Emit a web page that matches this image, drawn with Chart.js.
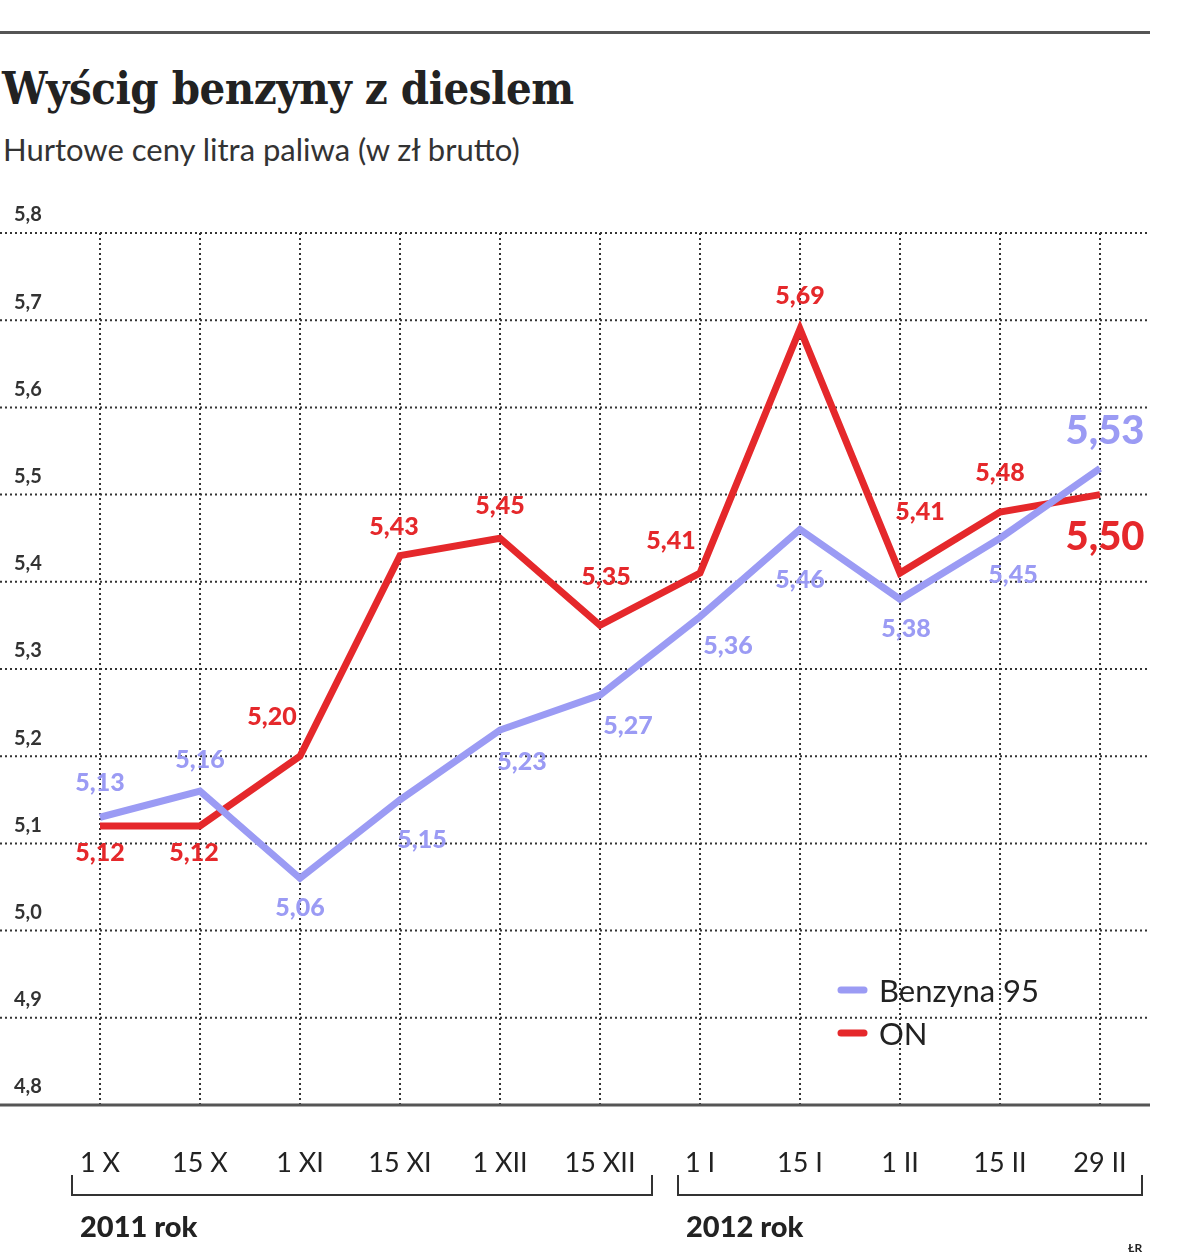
<!DOCTYPE html>
<html><head><meta charset="utf-8">
<script src="https://cdn.jsdelivr.net/npm/chart.js@4/dist/chart.umd.min.js"></script>
<style>
body{margin:0;background:#fff;width:1200px;height:1260px;position:relative;overflow:hidden;font-family:Lato,sans-serif}
#rule{position:absolute;left:0;top:31px;width:1150px;height:3px;background:#555}
#title{position:absolute;left:2px;top:62px;font:bold 45px "DejaVu Serif Condensed","DejaVu Serif",serif;color:#222;letter-spacing:-0.5px}
#sub{position:absolute;left:3px;top:130px;font:31px Lato,sans-serif;color:#333}
canvas{position:absolute;left:0;top:0}
</style></head><body>
<div id="rule"></div>
<div id="title">Wyścig benzyny z dieslem</div>
<div id="sub">Hurtowe ceny litra paliwa (w zł brutto)</div>
<canvas id="c" width="1200" height="1260"></canvas>
<script>
const categories=["1 X","15 X","1 XI","15 XI","1 XII","15 XII","1 I","15 I","1 II","15 II","29 II"];
const benzyna=[5.13,5.16,5.06,5.15,5.23,5.27,5.36,5.46,5.38,5.45,5.53];
const on=[5.12,5.12,5.20,5.43,5.45,5.35,5.41,5.69,5.41,5.48,5.50];
const yTicks=[4.8,4.9,5.0,5.1,5.2,5.3,5.4,5.5,5.6,5.7,5.8];
const seriesNames=["Benzyna 95","ON"];
const colors=["#9b9bf4","#e5282b"];
// label offsets (dx,dy) from point
const benzOff=[[0,-34],[0,-31],[0,30],[22,40],[22,32],[28,31],[28,29],[0,50],[6,30],[13,37],[5,-37]];
const onOff=[[0,27],[-6,27],[-28,-39],[-6,-29],[0,-32],[6,-48],[-29,-32],[0,-33],[20,-61],[0,-39],[5,42]];
const fmt=v=>v.toFixed(2).replace('.',',');
const toXY=a=>a.map((y,i)=>({x:i,y}));
const plugin={id:'deco',
beforeDatasetsDraw(ch){const c=ch.ctx,x=ch.scales.x,y=ch.scales.y;c.save();
 c.strokeStyle='#333';c.lineWidth=2;c.setLineDash([2,3]);
 yTicks.forEach(t=>{if(t===4.8)return;const p=y.getPixelForValue(t);c.beginPath();c.moveTo(0,p);c.lineTo(1150,p);c.stroke();});
 categories.forEach((_,i)=>{const p=x.getPixelForValue(i);c.beginPath();c.moveTo(p,y.getPixelForValue(5.8));c.lineTo(p,y.getPixelForValue(4.8));c.stroke();});
 c.setLineDash([]);c.lineWidth=3;c.strokeStyle='#555';const b=y.getPixelForValue(4.8);c.beginPath();c.moveTo(0,b);c.lineTo(1150,b);c.stroke();
 c.fillStyle='#333';c.font='bold 20px Lato';c.textAlign='left';c.textBaseline='bottom';
 yTicks.forEach(t=>{c.fillText(t.toFixed(1).replace('.',','),14,y.getPixelForValue(t)-8);});
 c.font='27px Lato';c.textAlign='center';c.textBaseline='middle';c.fillStyle='#222';
 categories.forEach((l,i)=>c.fillText(l,x.getPixelForValue(i),1163));
 c.strokeStyle='#333';c.lineWidth=2;
 [[72,652],[678,1142]].forEach(([a,e])=>{c.beginPath();c.moveTo(a,1175);c.lineTo(a,1195);c.lineTo(e,1195);c.lineTo(e,1175);c.stroke();});
 c.font='900 29px Lato';c.textAlign='left';c.fillText('2011 rok',80,1228);c.fillText('2012 rok',686,1228);
 c.font='bold 12px Lato';c.fillText('ŁR',1128,1248);
 c.lineCap='round';c.lineWidth=7;
 seriesNames.forEach((n,k)=>{const yy=990+k*43;c.strokeStyle=colors[k];c.beginPath();c.moveTo(841,yy);c.lineTo(864,yy);c.stroke();c.fillStyle='#222';c.font='31px Lato';c.fillText(n,879,yy+2);});
 c.restore();},
afterDatasetsDraw(ch){const c=ch.ctx;c.save();c.textAlign='center';c.textBaseline='middle';
 [[benzyna,benzOff],[on,onOff]].forEach(([d,off],k)=>{const m=ch.getDatasetMeta(k);c.fillStyle=colors[k];
  d.forEach((v,i)=>{const pt=m.data[i];const last=i===d.length-1;c.font=last?'900 40px Lato':'900 25px Lato';
   c.fillText(fmt(v),pt.x+off[i][0],pt.y+off[i][1]);});});c.restore();}};
new Chart(document.getElementById('c'),{type:'line',
 data:{datasets:[
  {label:seriesNames[0],data:toXY(benzyna),borderColor:colors[0],borderWidth:7,pointRadius:0,tension:0},
  {label:seriesNames[1],data:toXY(on),borderColor:colors[1],borderWidth:7,pointRadius:0,tension:0}]},
 options:{responsive:false,animation:false,events:[],
  layout:{padding:{top:233,bottom:155,left:0,right:50}},
  plugins:{legend:{display:false},tooltip:{enabled:false}},
  scales:{x:{type:'linear',min:-1,max:10.5,display:false},y:{min:4.8,max:5.8,display:false}}},
 plugins:[plugin]});
</script></body></html>
